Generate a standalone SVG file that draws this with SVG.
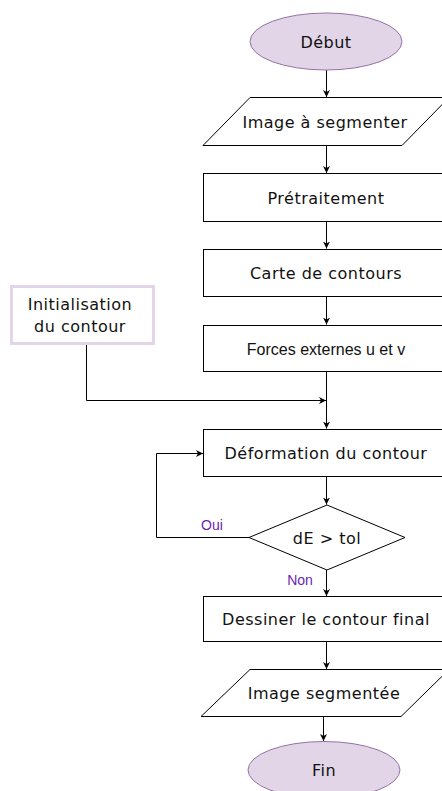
<svg xmlns="http://www.w3.org/2000/svg" width="442" height="791" viewBox="0 0 442 791">
<style>
.t{font-family:"DejaVu Sans",Verdana,sans-serif;font-size:16px;letter-spacing:0.5px;fill:#111;text-anchor:middle;dominant-baseline:central}
.a{font-family:"Liberation Sans",Arial,sans-serif;font-size:16px;fill:#111;text-anchor:middle;dominant-baseline:central}
.lbl{font-family:"Liberation Sans",Arial,sans-serif;font-size:14px;fill:#6a1fb0;text-anchor:middle;dominant-baseline:central}
.box{fill:#fff;stroke:#000;stroke-width:1}
.term{fill:#e1d5e7;stroke:#9673a6;stroke-width:1}
.ln{fill:none;stroke:#000;stroke-width:1}
</style>
<defs>
<marker id="ar" markerWidth="8" markerHeight="8" refX="7" refY="4" orient="auto" markerUnits="userSpaceOnUse">
<path d="M0,0.5 L7,4 L0,7.5 L2,4 Z" fill="#000"/>
</marker>
</defs>
<g id="connectors">
<path class="ln" d="M326.5,70 V97" marker-end="url(#ar)"/>
<path class="ln" d="M326.5,145 V173" marker-end="url(#ar)"/>
<path class="ln" d="M326.5,222 V248.5" marker-end="url(#ar)"/>
<path class="ln" d="M326.5,297 V324.5" marker-end="url(#ar)"/>
<path class="ln" d="M326.5,372 V428.5" marker-end="url(#ar)"/>
<path class="ln" d="M86.5,345 V400.5 H326" marker-end="url(#ar)"/>
<path class="ln" d="M326.5,477 V504.5" marker-end="url(#ar)"/>
<path class="ln" d="M249,537.5 H156.5 V453.5 H203" marker-end="url(#ar)"/>
<path class="ln" d="M326.5,570 V596" marker-end="url(#ar)"/>
<path class="ln" d="M326.5,642 V669" marker-end="url(#ar)"/>
<path class="ln" d="M323.5,717 V741" marker-end="url(#ar)"/>
<text class="lbl" x="212" y="525">Oui</text>
<text class="lbl" x="300" y="580">Non</text>
</g>
<g id="debut">
<ellipse class="term" cx="326" cy="41.5" rx="76" ry="28.5"/>
<text class="t" x="326" y="42">Début</text>
</g>
<g id="image-a-segmenter">
<path class="box" d="M250,97.5 H449 L402,145.5 H203 Z"/>
<text class="t" x="325" y="122">Image à segmenter</text>
</g>
<g id="pretraitement">
<rect class="box" x="203.5" y="173.5" width="244" height="48"/>
<text class="t" x="326" y="198">Prétraitement</text>
</g>
<g id="carte">
<rect class="box" x="203.5" y="249.5" width="244" height="47"/>
<text class="t" x="326" y="273">Carte de contours</text>
</g>
<g id="forces">
<rect class="box" x="203.5" y="325.5" width="244" height="46"/>
<text class="a" x="326" y="349">Forces externes u et v</text>
</g>
<g id="init">
<rect x="11.5" y="286.5" width="142" height="57" fill="#fff" stroke="#e1d5e7" stroke-width="3"/>
<text class="t" x="80" y="304">Initialisation</text>
<text class="t" x="80" y="326">du contour</text>
</g>
<g id="deformation">
<rect class="box" x="203.5" y="429.5" width="244" height="47"/>
<text class="t" x="326" y="453">Déformation du contour</text>
</g>
<g id="test">
<path class="box" d="M327,505 L405,537.5 L327,570 L249,537.5 Z"/>
<text class="t" x="327" y="538">dE &gt; tol</text>
</g>
<g id="dessiner">
<rect class="box" x="203.5" y="596.5" width="244" height="45"/>
<text class="t" x="326" y="619">Dessiner le contour final</text>
</g>
<g id="image-segmentee">
<path class="box" d="M250,669.5 H449 L401,716.5 H201 Z"/>
<text class="t" x="324" y="693">Image segmentée</text>
</g>
<g id="fin">
<ellipse class="term" cx="324" cy="770" rx="76" ry="28.5"/>
<text class="t" x="324" y="770">Fin</text>
</g>
</svg>
